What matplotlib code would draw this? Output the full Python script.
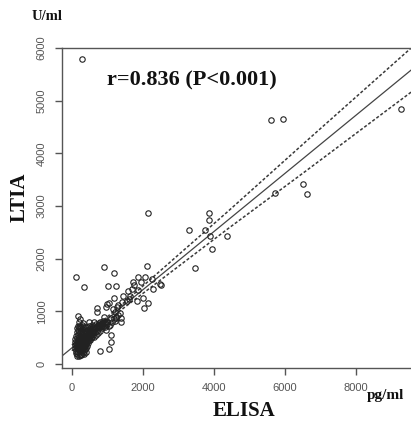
import numpy as np
import matplotlib
matplotlib.use("Agg")
from matplotlib import pyplot as plt

# ELISA (pg/ml) vs LTIA (U/ml) measurements
elisa = [280, 5600, 5950, 9270, 6500, 6620, 5720, 2140, 3860, 3860, 3300, 3750,
         3890, 4370, 3940, 3470, 2110, 890, 1180, 110, 1860, 2250, 2480, 2280,
         1720, 1860, 1580, 1010, 1240, 340, 2510, 2000, 2140, 2030, 1830, 1630,
         1550, 1180, 1380, 1380, 1210, 1270, 960, 700, 700, 990, 170, 220,
         480, 790, 1100, 1100, 1040, 790, 1050, 1300, 1450, 1700, 1750, 1950,
         2050, 1600, 1400, 1150, 900, 1100, 1250, 950, 1000, 1200,
         # points along the fit
         520, 560, 600, 620, 650, 680, 700, 720, 750, 770, 800, 820,
         850, 870, 900, 920, 950, 980, 1000, 650, 700, 740, 760, 800,
         830, 860, 880, 600, 580, 540, 500, 470, 620, 680, 720, 780,
         840, 900, 940, 1040, 1080, 1130, 1180, 1250, 1300, 1350,
         # low-value cluster
         80, 90, 100, 100, 110, 120, 120, 130, 130, 140, 140, 150,
         150, 160, 160, 160, 170, 170, 180, 180, 190, 190, 190, 200,
         200, 200, 210, 210, 220, 220, 220, 230, 230, 230, 240, 240,
         240, 250, 250, 250, 260, 260, 260, 270, 270, 270, 280, 280,
         280, 290, 290, 300, 300, 300, 300, 310, 310, 320, 320, 320,
         330, 330, 340, 340, 350, 350, 360, 360, 360, 370, 370, 380,
         380, 390, 390, 400, 400, 410, 420, 420, 430, 440, 450, 450,
         460, 470, 480, 490, 500, 510, 530, 550, 570, 590, 150, 200,
         260, 330, 390, 110, 140, 180, 210, 230, 250, 270, 290, 310,
         330, 350, 370, 200, 240, 280, 300, 260, 220, 190, 170, 340,
         380, 410, 440, 470, 200, 230, 280, 320, 360, 420, 480, 160,
         130, 520, 560, 620, 590]
ltia = [5790, 4630, 4650, 4840, 3420, 3230, 3250, 2870, 2870, 2730, 2540, 2540,
        2430, 2430, 2180, 1820, 1860, 1840, 1730, 1650, 1650, 1610, 1520, 1420,
        1550, 1400, 1390, 1480, 1480, 1460, 1500, 1250, 1160, 1060, 1200, 1290,
        1200, 1250, 870, 800, 990, 1080, 1080, 990, 1060, 1140, 910, 860,
        800, 800, 550, 420, 290, 250, 1150, 1120, 1300, 1420, 1500, 1550,
        1660, 1230, 1180, 1050, 900, 880, 900, 640, 760, 820,
        620, 680, 640, 720, 690, 760, 700, 740, 720, 780, 760, 730,
        780, 810, 770, 790, 760, 800, 790, 600, 620, 660, 700, 700,
        760, 740, 780, 560, 600, 560, 540, 580, 520, 560, 580, 620,
        690, 720, 700, 720, 750, 790, 860, 880, 940, 960,
        420, 360, 300, 480, 390, 250, 540, 330, 440, 600, 200, 380,
        500, 280, 430, 650, 350, 560, 220, 470, 310, 400, 620, 260,
        520, 700, 350, 450, 180, 400, 580, 300, 490, 680, 240, 360,
        440, 320, 540, 620, 200, 410, 480, 290, 360, 570, 250, 440,
        660, 330, 510, 210, 390, 460, 600, 290, 540, 360, 420, 700,
        250, 480, 330, 580, 400, 520, 280, 450, 640, 350, 500, 420,
        560, 300, 470, 380, 620, 520, 340, 440, 580, 480, 400, 650,
        540, 450, 500, 600, 460, 560, 500, 600, 520, 580, 160, 150,
        170, 200, 230, 210, 310, 390, 270, 420, 380, 440, 380, 450,
        390, 340, 420, 400, 500, 350, 320, 300, 330, 470, 300, 450,
        360, 400, 560, 640, 800, 720, 740, 770, 700, 700, 720, 720,
        680, 680, 740, 800, 690]

# regression line and its confidence band
fit_x = [-280, 10000]
fit_y = [153, 5828]
band_x = [0, 400, 800, 1500, 3000, 4400, 6600, 10000]
band_hi = [363, 569, 785, 1186, 2074, 2902, 4231, 6268]
band_lo = [253, 489, 715, 1086, 1854, 2572, 3671, 5388]

x_ticks = [0, 2000, 4000, 6000, 8000]
y_ticks = [0, 1000, 2000, 3000, 4000, 5000, 6000]

W, H = 411, 425
fig = plt.figure(figsize=(W / 100, H / 100), dpi=100)
ax = fig.add_axes([62 / W, 1 - 368 / H, 365 / W, 320 / H])

ink = '#3a3a3a'
ax.plot(elisa, ltia, 'o', mfc='none', mec='#222222', ms=3.9, mew=0.8, zorder=3)
ax.plot(fit_x, fit_y, '-', color='#444444', lw=0.9)
ax.plot(band_x, band_hi, color=ink, lw=1.1, dashes=(2.0, 1.3))
ax.plot(band_x, band_lo, color=ink, lw=1.1, dashes=(2.0, 1.3))

ax.set_xlim(-280, 10000)
ax.set_ylim(-75, 6000)
ax.set_xticks(x_ticks)
ax.set_yticks(y_ticks)
ax.set_xticklabels([str(v) for v in x_ticks])
ax.set_yticklabels([str(v) for v in y_ticks], rotation=90, va='center')

for s in ax.spines.values():
    s.set_color('#555555')
    s.set_linewidth(1.0)
ax.tick_params(direction='out', length=5, width=1.0, color='#555555',
               labelcolor='#555555', labelsize=8, pad=6)
for lbl in ax.get_xticklabels() + ax.get_yticklabels():
    lbl.set_family('Liberation Sans')

serif = dict(family='Liberation Serif', weight='bold', color='#111111')
ax.text((107 - 62) / 365, 1 - (80 - 48) / 320, 'r=0.836 (P<0.001)',
        transform=ax.transAxes, fontsize=16, va='center', ha='left', **serif)
fig.text(32 / W, 1 - 16 / H, 'U/ml', fontsize=10.5, va='center', ha='left', **serif)
fig.text(20 / W, 1 - 197 / H, 'LTIA', fontsize=15, rotation=90,
         va='center', ha='center', **serif)
fig.text(244 / W, 1 - 411 / H, 'ELISA', fontsize=15, va='center', ha='center', **serif)
fig.text(367 / W, 1 - 395 / H, 'pg/ml', fontsize=11, va='center', ha='left', **serif)

fig.savefig('out.png', dpi=100)
